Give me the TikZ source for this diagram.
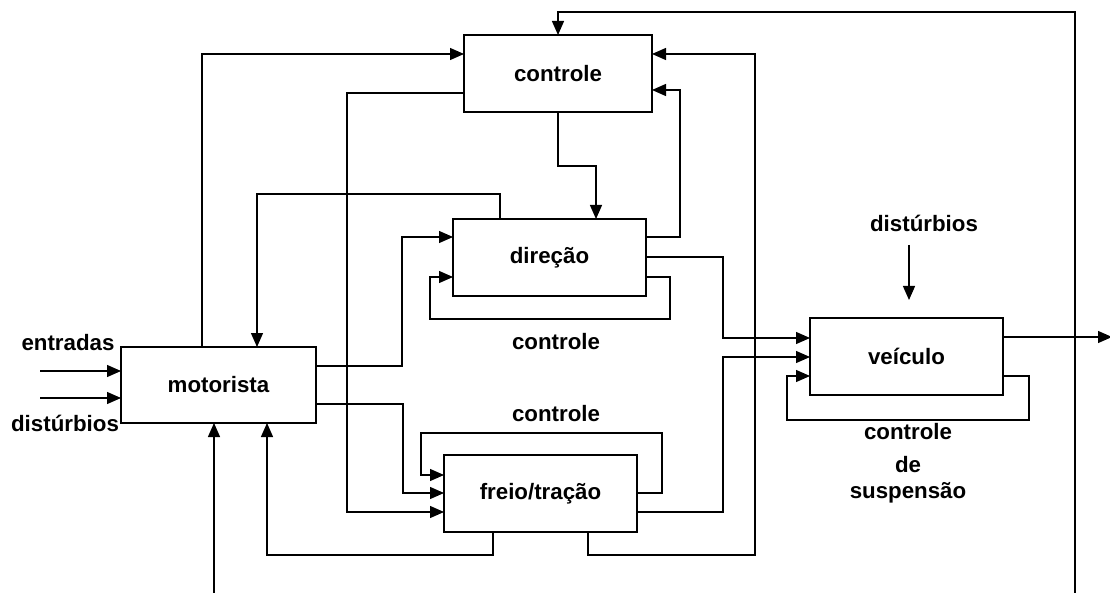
\documentclass[tikz,border=0pt]{standalone}
\usepackage{fontspec}
\setmainfont{Liberation Sans}
\usetikzlibrary{arrows.meta}
\begin{document}
\begin{tikzpicture}[x=1pt,y=-1pt,
  every node/.style={font=\fontsize{22.3}{26}\selectfont\bfseries},
  blk/.style={draw,line width=1.4pt,inner sep=0pt,outer sep=0pt,minimum height=77pt},
  lbl/.style={inner sep=0pt},
  arr/.style={line width=1.3pt,-{Triangle[length=14pt,width=12pt]}},
  ln/.style={line width=1.3pt}]
\useasboundingbox (0,0) rectangle (1110,593);
% blocks
\node[blk,minimum width=188pt] (ctl) at (558,73.5) {controle};
\node[blk,minimum width=193pt] (dir) at (549.5,257.5) {direção};
\node[blk,minimum width=195pt,minimum height=76pt] (mot) at (218.5,385) {motorista};
\node[blk,minimum width=193pt] (fre) at (540.5,493.5) {freio/tração};
\node[blk,minimum width=193pt] (veh) at (906.5,356.5) {veículo};
% labels
\node[lbl] (ent) at (68,343) {entradas};
\node[lbl] (dis1) at (65,423) {distúrbios};
\node[lbl] (dis2) at (924,223) {distúrbios};
\node[lbl] (c1) at (556,342) {controle};
\node[lbl] (c2) at (556,414) {controle};
\node[lbl] (c3) at (908,432) {controle};
\node[lbl] (c4) at (908,465) {de};
\node[lbl] (c5) at (908,493) {suspensão};
% free ends
\coordinate (e1) at (40,371);
\coordinate (e2) at (40,398);
\coordinate (b1) at (214,593);
\coordinate (b2) at (1075,593);
\coordinate (out) at (1112,337);
\coordinate (dtop) at (909,245);
% connectors
\draw[arr] (e1) -- (mot.west |- 0,371);
\draw[arr] (e2) -- (mot.west |- 0,398);
\draw[arr] (mot.north -| 202,0) |- (ctl.west |- 0,54);
\draw[arr] (dir.north -| 500,0) -- (500,194) -| (mot.north -| 257,0);
\draw[arr] (ctl.west |- 0,93) -| (347,512) -- (fre.west |- 0,512);
\draw[arr] (ctl.south) -- (558,166) -| (dir.north -| 596,0);
\draw[arr] (dir.east |- 0,237) -| (680,90) -- (ctl.east |- 0,90);
\draw[arr] (fre.south -| 588,0) |- (755,555) |- (ctl.east |- 0,54);
\draw[arr] (b2) |- (558,12) -- (ctl.north);
\draw[arr] (mot.east |- 0,366) -| (402,237) -- (dir.west |- 0,237);
\draw[arr] (dir.east |- 0,277) -| (670,319) -| (430,277) -- (dir.west |- 0,277);
\draw[arr] (dir.east |- 0,257) -| (723,338) -- (veh.west |- 0,338);
\draw[arr] (mot.east |- 0,404) -| (403,493) -- (fre.west |- 0,493);
\draw[arr] (fre.east |- 0,493) -| (662,433) -| (421,475) -- (fre.west |- 0,475);
\draw[arr] (fre.east |- 0,512) -| (723,357) -- (veh.west |- 0,357);
\draw[arr] (veh.east |- 0,376) -| (1029,420) -| (787,376) -- (veh.west |- 0,376);
\draw[arr] (veh.east |- 0,337) -- (out);
\draw[arr] (dtop) -- (veh.north -| 909,0) [shorten >=18pt];
\draw[arr] (fre.south -| 493,0) |- (267,555) -- (mot.south -| 267,0);
\draw[arr] (b1) -- (mot.south -| 214,0);
\end{tikzpicture}
\end{document}
